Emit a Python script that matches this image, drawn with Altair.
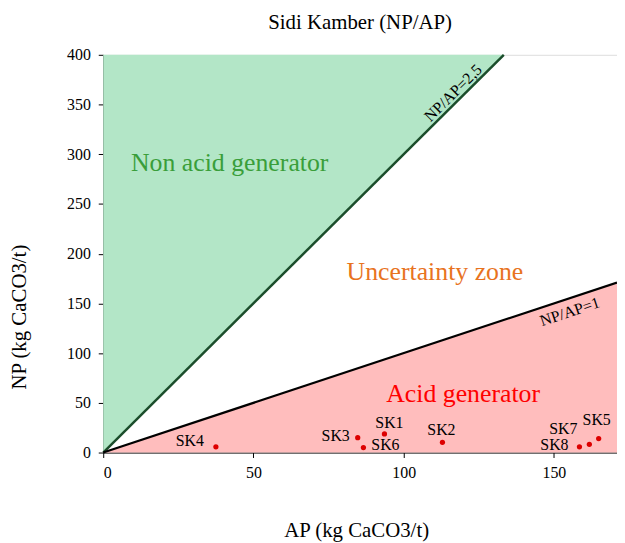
import altair as alt
import pandas as pd

FONT = "'Liberation Serif', 'Times New Roman', serif"

# Sample points
samples = ["SK1", "SK2", "SK3", "SK4", "SK5", "SK6", "SK7", "SK8"]
ap_values = [93.6, 112.9, 84.7, 37.5, 164.9, 86.6, 161.8, 158.5]
np_values = [18.7, 10.3, 15.0, 5.7, 14.0, 5.0, 8.3, 5.7]

# Zone boundaries (as drawn)
upper_ap = [0, 133.33]
upper_np = [0, 400]
lower_ap = [0, 171]
lower_np = [0, 171]
x_max = 171
y_max = 400

x_ticks = [0, 50, 100, 150]
y_ticks = [0, 50, 100, 150, 200, 250, 300, 350, 400]

zone_labels = ["Non acid generator", "Uncertainty zone", "Acid generator"]
zone_ap = [42.1, 110.4, 119.8]
zone_np = [291, 182, 59]
zone_colors = ["#3a9e3a", "#e8731e", "#ff0000"]

line_labels = ["NP/AP=2,5", "NP/AP=1"]
line_lab_ap = [116.5, 155.3]
line_lab_np = [361.5, 141.5]
line_lab_angle = [315.4, 341.7]

# label placement (style)
label_style = {
    "SK1": ("center", 5, -11),
    "SK2": ("center", -1, -12),
    "SK3": ("right", -8, -2),
    "SK4": ("right", -12, -6),
    "SK5": ("center", -2, -19),
    "SK6": ("left", 8, -3),
    "SK7": ("right", -12, -15),
    "SK8": ("right", -11, -2),
}

pts = pd.DataFrame({"sample": samples, "AP": ap_values, "NP": np_values})
green = pd.DataFrame({"AP": upper_ap, "NP": upper_np, "top": [y_max, y_max]})
pink = pd.DataFrame({"AP": lower_ap, "NP": lower_np, "base": [0, 0]})
upper = pd.DataFrame({"AP": upper_ap, "NP": upper_np})
lower = pd.DataFrame({"AP": lower_ap, "NP": lower_np})

xs = alt.Scale(domain=[0, x_max], nice=False, zero=True)
ys = alt.Scale(domain=[0, y_max], nice=False)

X = alt.X("AP:Q", scale=xs, axis=alt.Axis(
    title="AP  (kg CaCO3/t)", values=x_ticks, grid=False,
    titleFont=FONT, titleFontSize=21, titleFontWeight="normal", titleColor="black",
    titleX=255, titleY=85, titleBaseline="alphabetic", titleAlign="center",
    labelFont=FONT, labelFontSize=16, labelColor="black", labelPadding=7,
    domainColor="black", tickColor="black", tickSize=5,
))
Y = alt.Y("NP:Q", scale=ys, axis=alt.Axis(
    title="NP  (kg CaCO3/t)", values=y_ticks, grid=False,
    titleFont=FONT, titleFontSize=21, titleFontWeight="normal", titleColor="black",
    titleAngle=270, titleX=-78, titleY=264, titleBaseline="alphabetic", titleAlign="center",
    labelFont=FONT, labelFontSize=16, labelColor="black", labelPadding=8,
    domainColor="black", tickColor="black", tickSize=5,
))

green_area = alt.Chart(green).mark_area(color="#b3e6c7", opacity=1).encode(
    x=X, y=Y, y2="top:Q")
pink_area = alt.Chart(pink).mark_area(color="#ffbdbd", opacity=1).encode(
    x=alt.X("AP:Q", scale=xs), y=alt.Y("NP:Q", scale=ys), y2="base:Q")
upper_line = alt.Chart(upper).mark_line(color="#1b4d2b", strokeWidth=2.5).encode(
    x=alt.X("AP:Q", scale=xs), y=alt.Y("NP:Q", scale=ys))
lower_line = alt.Chart(lower).mark_line(color="black", strokeWidth=2.2).encode(
    x=alt.X("AP:Q", scale=xs), y=alt.Y("NP:Q", scale=ys))

points = alt.Chart(pts).mark_circle(color="#dd0000", size=28, opacity=1).encode(
    x=alt.X("AP:Q", scale=xs), y=alt.Y("NP:Q", scale=ys))

layers = [green_area, pink_area, upper_line, lower_line, points]

for s in samples:
    al, dx, dy = label_style[s]
    layers.append(
        alt.Chart(pts[pts["sample"] == s]).mark_text(
            font=FONT, fontSize=16, color="black", align=al, baseline="middle",
            dx=dx, dy=dy).encode(
            x=alt.X("AP:Q", scale=xs), y=alt.Y("NP:Q", scale=ys), text="sample:N"))

for lab, a, n, c in zip(zone_labels, zone_ap, zone_np, zone_colors):
    layers.append(
        alt.Chart(pd.DataFrame({"AP": [a], "NP": [n], "t": [lab]})).mark_text(
            font=FONT, fontSize=26, color=c, align="center", baseline="middle").encode(
            x=alt.X("AP:Q", scale=xs), y=alt.Y("NP:Q", scale=ys), text="t:N"))

for lab, a, n, ang in zip(line_labels, line_lab_ap, line_lab_np, line_lab_angle):
    layers.append(
        alt.Chart(pd.DataFrame({"AP": [a], "NP": [n], "t": [lab]})).mark_text(
            font=FONT, fontSize=16, color="black", align="center", baseline="middle",
            angle=ang).encode(
            x=alt.X("AP:Q", scale=xs), y=alt.Y("NP:Q", scale=ys), text="t:N"))

chart = alt.layer(*layers).properties(
    width=518, height=401,
    title=alt.TitleParams("Sidi Kamber (NP/AP)", font=FONT, fontSize=21,
                          fontWeight="normal", color="black", anchor="middle",
                          offset=14),
    autosize=alt.AutoSizeParams(type="none"),
    padding={"left": 96, "top": 45, "right": 0, "bottom": 88},
).configure_view(stroke=None).configure(background="white")

chart.save("out.html", embed_options={"renderer": "svg", "actions": False})
